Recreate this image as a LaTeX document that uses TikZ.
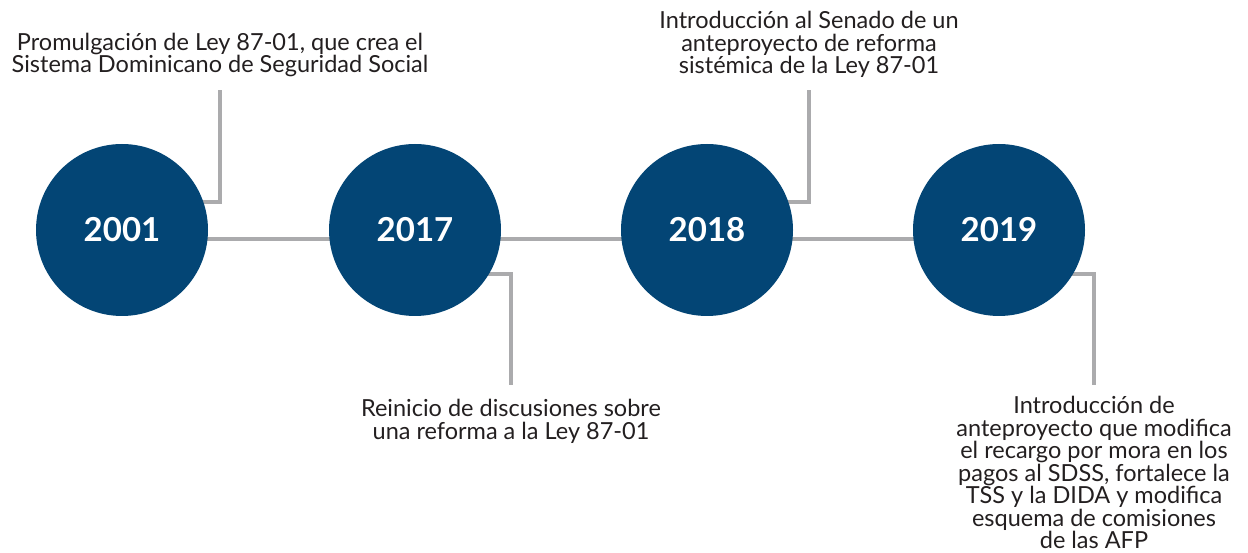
\documentclass[tikz,border=0pt]{standalone}
\usepackage{fontspec}
\setmainfont{Lato}
\usetikzlibrary{positioning,backgrounds}
\definecolor{yearblue}{RGB}{3,69,117}
\definecolor{linegray}{RGB}{171,171,173}
\definecolor{notegray}{RGB}{35,31,32}

\begin{document}
\begin{tikzpicture}[x=1pt,y=-1pt,
    year/.style={circle,fill=yearblue,minimum size=172pt,inner sep=0pt,
      text=white,font=\fontsize{33}{33}\selectfont\bfseries},
    note/.style={align=center,inner sep=0pt,text=notegray,
      font=\fontsize{23.5}{22.5}\selectfont},
    conn/.style={draw=linegray,line width=4pt}]
    \useasboundingbox (0,0) rectangle (1248,553);

    % years
    \node[year] (y2001) at (122,230) {2001};
    \node[year] (y2017) at (415,230) {2017};
    \node[year] (y2018) at (707,230) {2018};
    \node[year] (y2019) at (999,230) {2019};

    % free ends of the connectors
    \coordinate (e2001) at (220,90);
    \coordinate (e2017) at (511,385);
    \coordinate (e2018) at (809,90);
    \coordinate (e2019) at (1094,385);

    % notes
    \node[note,above=13pt of e2001] (t2001) {Promulgación de Ley 87-01, que crea el\\Sistema Dominicano de Seguridad Social};
    \node[note,below=14pt of e2017] (t2017) {Reinicio de discusiones sobre\\una reforma a la Ley 87-01};
    \node[note,above=12pt of e2018] (t2018) {Introducción al Senado de un\\anteproyecto de reforma\\sistémica de la Ley 87-01};
    \node[note,below=11pt of e2019] (t2019) {Introducción de\\anteproyecto que modifica\\el recargo por mora en los\\pagos al SDSS, fortalece la\\TSS y la DIDA y modifica\\esquema de comisiones\\de las AFP};

    \begin{scope}[on background layer]
      \draw[conn] ([yshift=-9pt]y2001.center) -- ([yshift=-9pt]y2019.center);
      \draw[conn] ([yshift=28pt]y2001.center) -| (e2001);
      \draw[conn] ([yshift=-44pt]y2017.center) -| (e2017);
      \draw[conn] ([yshift=28pt]y2018.center) -| (e2018);
      \draw[conn] ([yshift=-44pt]y2019.center) -| (e2019);
    \end{scope}
\end{tikzpicture}
\end{document}
